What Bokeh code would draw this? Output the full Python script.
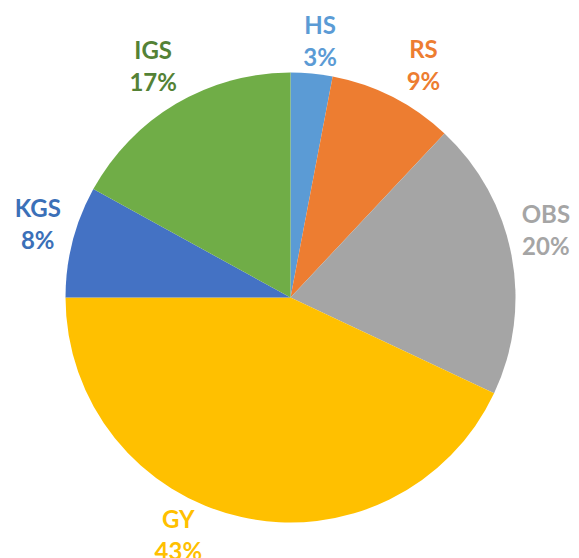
import math
from bokeh.plotting import figure
from bokeh.models import Range1d, ColumnDataSource
from bokeh.core.properties import value
from bokeh.embed import file_html
from bokeh.resources import INLINE

# data
categories = ["HS", "RS", "OBS", "GY", "KGS", "IGS"]
percents = [3, 9, 20, 43, 8, 17]
slice_colors = ["#5B9BD5", "#ED7D31", "#A5A5A5", "#FFC000", "#4472C4", "#70AD47"]
label_colors = ["#5B9BD5", "#ED7D31", "#A5A5A5", "#FFC000", "#3B70B8", "#548235"]

# layout (screen pixels)
W, H = 579, 558
cx, cy, R = 290, 297, 225
label_r = 262
# per-label nudges (px) relative to the mid-angle position
nudges = [(5, 4), (14, 0), (-2, -19), (-55, -19), (1, -9), (-4, -6)]

total = sum(percents)
starts, ends, mids = [], [], []
cum = 0.0
for v in percents:
    a0 = math.pi / 2 - 2 * math.pi * cum / total
    cum += v
    a1 = math.pi / 2 - 2 * math.pi * cum / total
    starts.append(a0)
    ends.append(a1)
    mids.append((a0 + a1) / 2)

src = ColumnDataSource(dict(start=starts, end=ends, color=slice_colors))

p = figure(width=W, height=H, output_backend="svg", toolbar_location=None,
           x_range=Range1d(0, W), y_range=Range1d(-H, 0),
           min_border=0, outline_line_color=None)
p.axis.visible = False
p.grid.visible = False
p.background_fill_color = "white"

p.wedge(x=cx, y=-cy, radius=R, start_angle="start", end_angle="end",
        direction="clock", fill_color="color", line_color=None, source=src)

lx, ly1, ly2, t1, t2, cols = [], [], [], [], [], []
for i, name in enumerate(categories):
    m = mids[i]
    x = cx + label_r * math.cos(m) + nudges[i][0]
    ysc = cy - label_r * math.sin(m) + nudges[i][1]
    lx.append(x)
    ly1.append(-(ysc - 16))
    ly2.append(-(ysc + 16))
    t1.append(name)
    t2.append(f"{percents[i]}%")
    cols.append(label_colors[i])

lsrc = ColumnDataSource(dict(x=lx, y1=ly1, y2=ly2, t1=t1, t2=t2, c=cols))
for yk, tk in (("y1", "t1"), ("y2", "t2")):
    p.text(x="x", y=yk, text=tk, source=lsrc, text_color="c",
           text_font=value("Lato"), text_font_style="bold",
           text_font_size="24px", text_align="center", text_baseline="middle")

open("out.html", "w").write(file_html(p, INLINE))
